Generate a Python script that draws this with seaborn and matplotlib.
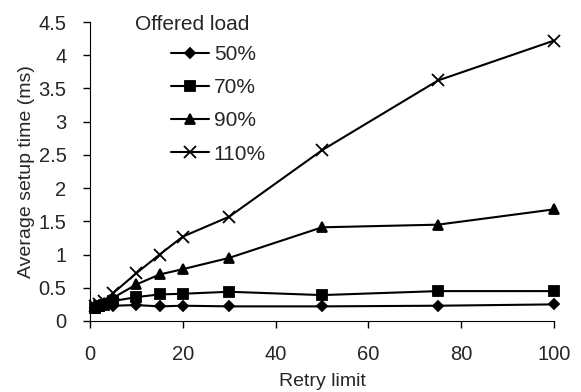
import matplotlib
matplotlib.use('Agg')
import matplotlib.pyplot as plt
import seaborn as sns
import pandas as pd

# retry limits and average setup time (ms) per offered load
retry_limit = [1, 2, 3, 5, 10, 15, 20, 30, 50, 75, 100]
load_labels = ['50%', '70%', '90%', '110%']
setup_50 = [0.20, 0.21, 0.22, 0.23, 0.24, 0.22, 0.23, 0.22, 0.22, 0.23, 0.25]
setup_70 = [0.20, 0.22, 0.24, 0.30, 0.36, 0.40, 0.41, 0.44, 0.39, 0.45, 0.45]
setup_90 = [0.20, 0.23, 0.27, 0.35, 0.55, 0.70, 0.78, 0.95, 1.41, 1.45, 1.68]
setup_110 = [0.22, 0.25, 0.30, 0.42, 0.72, 1.00, 1.27, 1.57, 2.57, 3.62, 4.22]

sns.set_style('ticks')
plt.rcParams['font.family'] = ['Liberation Sans', 'DejaVu Sans']

W, H = 581, 392
fig = plt.figure(figsize=(W / 100, H / 100), dpi=100)
# axes box: x 90..554 px, y 22..321 px
ax = fig.add_axes([90 / W, 1 - 321 / H, (554 - 90) / W, (321 - 22) / H])

markers = ['D', 's', '^', 'x']
sizes = [5.5, 7, 7.5, 8.5]
for lab, vals, m, ms in zip(load_labels, [setup_50, setup_70, setup_90, setup_110], markers, sizes):
    df = pd.DataFrame({'Retry limit': retry_limit, 'Average setup time (ms)': vals})
    sns.lineplot(data=df, x='Retry limit', y='Average setup time (ms)', ax=ax,
                 color='black', linewidth=1.5, marker=m, markersize=ms,
                 markeredgecolor='black', markerfacecolor='black',
                 markeredgewidth=1.3, label=lab, clip_on=False)

ax.set_xlim(0, 100)
ax.set_ylim(0, 4.5)
ax.set_xticks([0, 20, 40, 60, 80, 100])
ax.set_yticks([0, 0.5, 1, 1.5, 2, 2.5, 3, 3.5, 4, 4.5])
ax.set_yticklabels(['0', '0.5', '1', '1.5', '2', '2.5', '3', '3.5', '4', '4.5'])
ax.tick_params(labelsize=14.5, length=5, width=1, color='black')
ax.tick_params(axis='x', pad=12)
ax.tick_params(axis='y', pad=12)
ax.set_xlabel('Retry limit', fontsize=14)
ax.set_ylabel('Average setup time (ms)', fontsize=14)
ax.xaxis.set_label_coords(0.5, (1 - 382 / H - (1 - 321 / H)) / ((321 - 22) / H))
ax.yaxis.set_label_coords((27 - 90) / (554 - 90), 0.5)
ax.xaxis.label.set_va('center')
ax.yaxis.label.set_va('center')
for s in ['left', 'bottom']:
    ax.spines[s].set_color('black')
sns.despine(ax=ax)

fig.text(135 / W, 1 - 25 / H, 'Offered load', fontsize=15, ha='left', va='center')
leg = ax.legend(loc='upper left', bbox_to_anchor=(171 / W, 1 - 45 / H),
                bbox_transform=fig.transFigure, frameon=False, fontsize=15,
                handlelength=1.8, handletextpad=0.25, labelspacing=0.68,
                borderpad=0, borderaxespad=0)

fig.savefig('out.png', dpi=100)
